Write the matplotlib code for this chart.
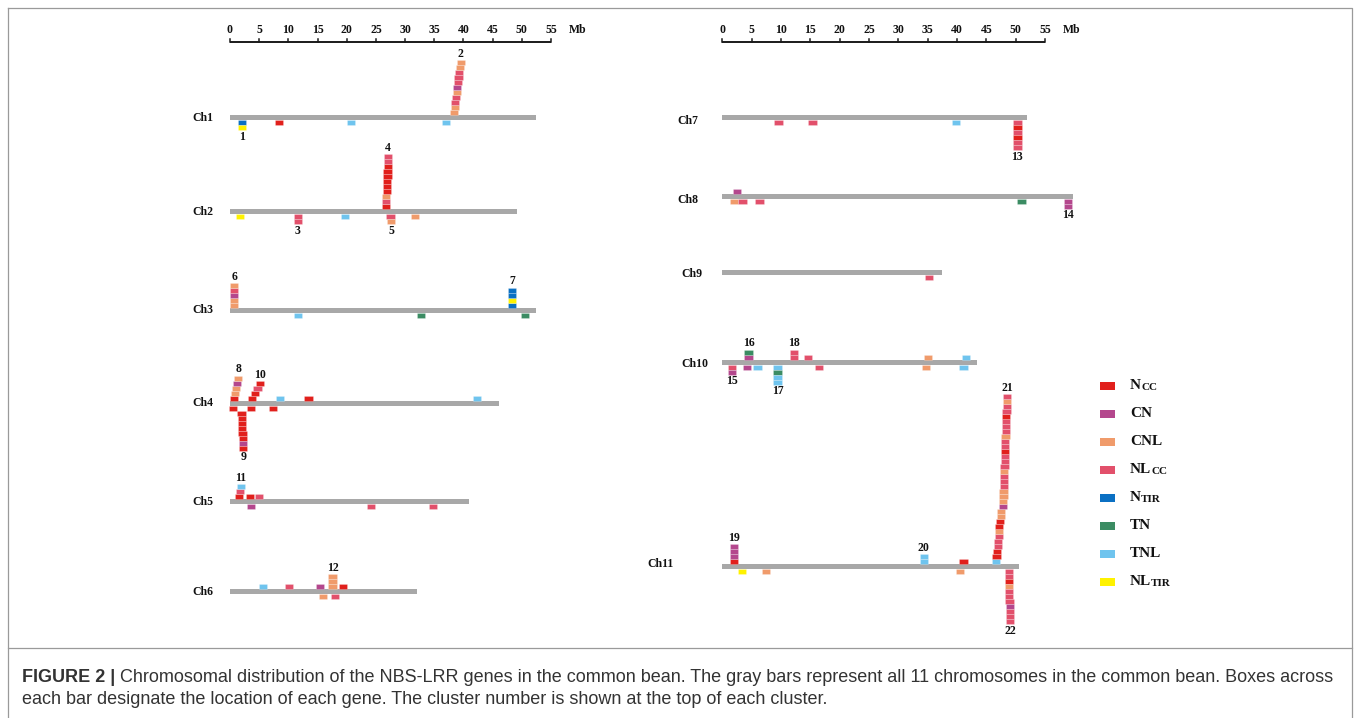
import matplotlib
matplotlib.use("Agg")
import matplotlib.pyplot as plt
from matplotlib.patches import Rectangle

W, H = 1360, 718

# gene classes in legend order
gene_types = ["Ncc", "CN", "CNL", "NLcc", "Ntir", "TN", "TNL", "NLtir"]
type_colors = ["#e1201c", "#b4478d", "#f09b6b", "#e2506b",
               "#0b70c3", "#3b8c63", "#6fc4ee", "#fff200"]
legend_main = ["N", "CN", "CNL", "NL", "N", "TN", "TNL", "NL"]
legend_small = ["CC", "", "", "CC", "TIR", "", "", "TIR"]

scale_ticks = list(range(0, 56, 5))

left_chroms = ["Ch1", "Ch2", "Ch3", "Ch4", "Ch5", "Ch6"]
left_lengths = [52.4, 49.2, 52.4, 46.1, 41.0, 32.0]
right_chroms = ["Ch7", "Ch8", "Ch9", "Ch10", "Ch11"]
right_lengths = [52.0, 59.8, 37.4, 43.4, 50.6]

# tracks: (side, positions in Mb, gene types from the bar outwards, cluster no., skipped levels)
ch1 = [
    (-1, [2.0, 2.05], ["Ntir", "NLtir"], "1"),
    (-1, [8.4], ["Ncc"]),
    (-1, [20.7], ["TNL"]),
    (-1, [37.0], ["TNL"]),
    (1, [38.4, 38.5, 38.62, 38.75, 38.85, 38.95, 39.05, 39.15, 39.3, 39.45, 39.55],
     ["CNL", "CNL", "NLcc", "NLcc", "CNL", "CN", "NLcc", "NLcc", "NLcc", "CNL", "CNL"], "2"),
]
ch2 = [
    (-1, [1.7], ["NLtir"]),
    (-1, [11.6, 11.6], ["NLcc", "NLcc"], "3"),
    (-1, [19.7], ["TNL"]),
    (-1, [27.5, 27.65], ["NLcc", "CNL"], "5"),
    (-1, [31.75], ["CNL"]),
    (1, [26.7, 26.75, 26.8, 26.85, 26.9, 26.95, 27.0, 27.0, 27.05, 27.1, 27.1],
     ["Ncc", "NLcc", "CNL", "Ncc", "Ncc", "Ncc", "Ncc", "Ncc", "Ncc", "NLcc", "NLcc"], "4"),
]
ch3 = [
    (1, [0.75, 0.75, 0.75, 0.75, 0.75], ["CNL", "CNL", "CN", "NLcc", "CNL"], "6"),
    (1, [48.3, 48.3, 48.3, 48.3], ["Ntir", "NLtir", "Ntir", "Ntir"], "7"),
    (-1, [11.7], ["TNL"]),
    (-1, [32.7], ["TN"]),
    (-1, [50.5], ["TN"]),
]
ch4 = [
    (1, [0.72, 0.85, 1.0, 1.2, 1.42], ["Ncc", "CNL", "CNL", "CN", "CNL"], "8"),
    (1, [3.8, 4.25, 4.7, 5.2], ["Ncc", "Ncc", "NLcc", "Ncc"], "10"),
    (1, [8.57], ["TNL"]),
    (1, [13.45], ["Ncc"]),
    (1, [42.3], ["TNL"]),
    (-1, [0.57], ["Ncc"]),
    (-1, [3.6], ["Ncc"]),
    (-1, [7.4], ["Ncc"]),
    (-1, [1.97, 2.0, 2.05, 2.1, 2.13, 2.17, 2.2, 2.26],
     ["Ncc", "Ncc", "Ncc", "Ncc", "Ncc", "Ncc", "CN", "Ncc"], "9", 1),
]
ch5 = [
    (1, [1.57, 1.7, 1.85], ["Ncc", "NLcc", "TNL"], "11"),
    (1, [3.43], ["Ncc"]),
    (1, [4.94], ["NLcc"]),
    (-1, [3.57], ["CN"]),
    (-1, [24.1], ["NLcc"]),
    (-1, [34.75], ["NLcc"]),
]
ch6 = [
    (1, [5.68], ["TNL"]),
    (1, [10.08], ["NLcc"]),
    (1, [15.4], ["CN"]),
    (1, [17.56, 17.56, 17.56], ["CNL", "CNL", "CNL"], "12"),
    (1, [19.4], ["Ncc"]),
    (-1, [16.0], ["CNL"]),
    (-1, [18.0], ["NLcc"]),
]
ch7 = [
    (-1, [9.58], ["NLcc"]),
    (-1, [15.37], ["NLcc"]),
    (-1, [39.8], ["TNL"]),
    (-1, [50.3, 50.3, 50.3, 50.3, 50.3, 50.3],
     ["NLcc", "Ncc", "NLcc", "Ncc", "NLcc", "NLcc"], "13"),
]
ch8 = [
    (1, [2.5], ["CN"]),
    (-1, [2.0], ["CNL"]),
    (-1, [3.44], ["NLcc"]),
    (-1, [6.34], ["NLcc"]),
    (-1, [51.0], ["TN"]),
    (-1, [58.9, 58.9], ["CN", "CN"], "14"),
]
ch9 = [
    (-1, [35.2], ["NLcc"]),
]
ch10 = [
    (-1, [1.6, 1.6], ["NLcc", "CN"], "15"),
    (-1, [4.2], ["CN"]),
    (-1, [6.0], ["TNL"]),
    (-1, [9.4, 9.4, 9.4, 9.4], ["TNL", "TN", "TNL", "TNL"], "17"),
    (-1, [16.5], ["NLcc"]),
    (-1, [34.7], ["CNL"]),
    (-1, [41.1], ["TNL"]),
    (1, [4.47, 4.47], ["CN", "TN"], "16"),
    (1, [12.2, 12.2], ["NLcc", "NLcc"], "18"),
    (1, [14.66], ["NLcc"]),
    (1, [35.06], ["CNL"]),
    (1, [41.5], ["TNL"]),
]
cl21_pos = [46.65, 46.74, 46.82, 46.94, 47.05, 47.11, 47.16, 47.22, 47.33, 47.45, 47.56,
            47.84, 47.87, 47.91, 47.93, 47.97, 48.01, 48.03, 48.07, 48.09, 48.13, 48.16,
            48.18, 48.22, 48.24, 48.28, 48.31, 48.33, 48.37, 48.4, 48.43, 48.46, 48.5, 48.53]
cl21_types = ["TNL", "Ncc", "Ncc", "NLcc", "NLcc", "NLcc", "CNL", "Ncc", "Ncc", "CNL",
              "CNL", "CN", "CNL", "CNL", "CNL", "NLcc", "NLcc", "NLcc", "CNL", "NLcc",
              "NLcc", "NLcc", "Ncc", "NLcc", "NLcc", "CNL", "NLcc", "NLcc", "NLcc", "Ncc",
              "NLcc", "NLcc", "CNL", "NLcc"]
cl22_pos = [48.8, 48.82, 48.85, 48.87, 48.9, 48.92, 48.95, 48.97, 49.0, 49.02, 49.05]
cl22_types = ["NLcc", "NLcc", "Ncc", "CNL", "NLcc", "NLcc", "NLcc", "CN", "NLcc", "NLcc", "NLcc"]
ch11 = [
    (1, [2.0, 2.0, 2.0, 2.0], ["Ncc", "CN", "CN", "CN"], "19"),
    (1, [34.35, 34.35], ["TNL", "TNL"], "20"),
    (1, [41.1], ["Ncc"]),
    (1, cl21_pos, cl21_types, "21"),
    (-1, [3.3], ["NLtir"]),
    (-1, [7.5], ["CNL"]),
    (-1, [40.55], ["CNL"]),
    (-1, cl22_pos, cl22_types, "22"),
]
left_tracks = [ch1, ch2, ch3, ch4, ch5, ch6]
right_tracks = [ch7, ch8, ch9, ch10, ch11]

caption_bold = "FIGURE 2 |"
caption_1 = (" Chromosomal distribution of the NBS-LRR genes in the common bean. The gray bars "
             "represent all 11 chromosomes in the common bean. Boxes across")
caption_2 = "each bar designate the location of each gene. The cluster number is shown at the top of each cluster."

# ---- layout (pixels) ----
COLOR = dict(zip(gene_types, type_colors))
SERIF = "Liberation Serif"
BAR_GRAY = "#a8a8a8"
BOX_W = 1.4     # Mb
BOX_H = 5.0     # px
BAR_H = 5.0     # px
left_rows = [117.7, 211.7, 310.0, 403.0, 501.7, 591.7]
right_rows = [117.7, 196.0, 272.0, 362.0, 566.7]
right_label_x = [-7.7, -7.7, -7.0, -6.9, -12.8]
right_label_dy = [3.0, 4.0, 2.0, 2.0, -2.5]

fig = plt.figure(figsize=(W / 100, H / 100), dpi=100)


def panel_axes(x0, px_per_mb):
    ax = fig.add_axes([0, 0, 1, 1])
    ax.set_xlim(-x0 / px_per_mb, (W - x0) / px_per_mb)
    ax.set_ylim(H, 0)
    ax.axis("off")
    ax.patch.set_alpha(0)
    return ax


def draw_scale(ax):
    ax.plot([0, 55], [42.3, 42.3], color="#1a1a1a", lw=1.4, solid_capstyle="butt")
    for t in scale_ticks:
        ax.plot([t, t], [42.3, 38.8], color="#1a1a1a", lw=1.1)
        ax.text(t, 30, str(t), ha="center", va="center", fontsize=8.5,
                fontweight="bold", family=SERIF, color="#111111")
    ax.text(59.6, 30, "Mb", ha="center", va="center", fontsize=8.5,
            fontweight="bold", family=SERIF, color="#111111")


def draw_chrom(ax, name, length, y, tracks, lx, ha, ldy=0.0):
    ax.add_patch(Rectangle((0, y - BAR_H / 2), length, BAR_H, facecolor=BAR_GRAY, lw=0))
    ax.text(lx, y + ldy, name, ha=ha, va="center", fontsize=8.5, fontweight="bold",
            family=SERIF, color="#111111")
    for tr in tracks:
        side, pos, kinds = tr[:3]
        label = tr[3] if len(tr) > 3 else None
        skip = tr[4] if len(tr) > 4 else 0
        for k, (p, g) in enumerate(zip(pos, kinds)):
            lvl = k + skip
            if side > 0:
                y0 = y - BAR_H / 2 - BOX_H * (lvl + 1)
            else:
                y0 = y + BAR_H / 2 + BOX_H * lvl
            ax.add_patch(Rectangle((p - BOX_W / 2, y0), BOX_W, BOX_H, facecolor=COLOR[g],
                                   edgecolor=(1, 1, 1, 0.35), lw=0.4))
        if label:
            n = len(pos) + skip
            if side > 0:
                ly = y - BAR_H / 2 - BOX_H * n - 6
            else:
                ly = y + BAR_H / 2 + BOX_H * n + 7
            ax.text(pos[-1], ly, label, ha="center", va="center", fontsize=8.5,
                    fontweight="bold", family=SERIF, color="#111111")


axL = panel_axes(230.0, 321.0 / 55)
axR = panel_axes(722.3, 322.7 / 55)
draw_scale(axL)
draw_scale(axR)
for name, length, y, tracks in zip(left_chroms, left_lengths, left_rows, left_tracks):
    draw_chrom(axL, name, length, y, tracks, -2.9, "right")
for i, (name, length, y, tracks) in enumerate(zip(right_chroms, right_lengths, right_rows, right_tracks)):
    draw_chrom(axR, name, length, y, tracks, right_label_x[i], "left", right_label_dy[i])

# pixel axes for legend, frame and caption
pax = fig.add_axes([0, 0, 1, 1])
pax.set_xlim(0, W)
pax.set_ylim(H, 0)
pax.axis("off")
pax.patch.set_alpha(0)

for i, g in enumerate(gene_types):
    yc = 385.7 + i * 28.0
    pax.add_patch(Rectangle((1100, yc - 4), 15, 8, facecolor=COLOR[g], lw=0))
    t = pax.text(1130, yc, legend_main[i], ha="left", va="center", fontsize=11,
                 fontweight="bold", family=SERIF, color="#111111")
    if legend_small[i]:
        pax.annotate(legend_small[i], xy=(1, 0), xycoords=t, ha="left", va="bottom",
                     fontsize=8, fontweight="bold", family=SERIF, color="#111111")

frame_col = "#9a9a9a"
pax.plot([8, 1352, 1352, 8, 8], [8, 8, 648, 648, 8], color=frame_col, lw=0.9)
pax.plot([8, 8], [648, 718], color=frame_col, lw=0.9)
pax.plot([1352, 1352], [648, 718], color=frame_col, lw=0.9)

tb = pax.text(22, 677, caption_bold, ha="left", va="center", fontsize=13,
              fontweight="bold", family="Liberation Sans", color="#333333")
pax.annotate(caption_1, xy=(1, 0), xycoords=tb, ha="left", va="bottom", fontsize=13,
             family="Liberation Sans", color="#333333")
pax.text(22, 700, caption_2, ha="left", va="center", fontsize=13,
         family="Liberation Sans", color="#333333")

fig.savefig("out.png", dpi=100)
